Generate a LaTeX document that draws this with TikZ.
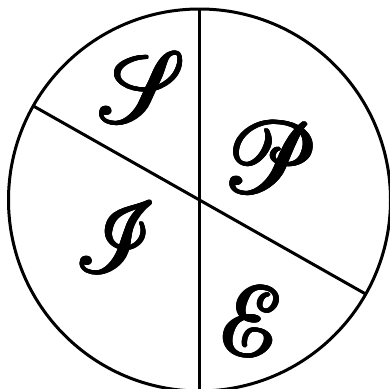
\documentclass[tikz,border=0pt]{standalone}
\usepackage{mathrsfs}
\usepackage[copies]{contour}
\contourlength{0.3pt}
\contournumber{12}
\usetikzlibrary{calc}
\tikzset{
  divider/.style={line width=3pt, black},
  letter/.style={inner sep=0pt, scale=4, xslant=-0.3, font=\fontsize{24.88}{26}\selectfont}
}
\newcommand{\boldscr}[1]{\contour{black}{$\mathscr{#1}$}}
\begin{document}
\begin{tikzpicture}[x=1pt,y=1pt]
  \useasboundingbox (0,0) rectangle (390,-388);
  \coordinate (c) at (199.5,-200);
  \coordinate (top) at (199.5,-9);
  \coordinate (bot) at (199.5,-391);
  \coordinate (left) at ($(c)+(150.5:191)$);
  \coordinate (right) at ($(c)+(-29.5:191)$);
  \draw[divider] (c) circle (191);
  \draw[divider] (top) -- (bot);
  \draw[divider] (left) -- (right);
  \node[letter] (S) at (142,-88) {\boldscr{S}};
  \node[letter] (P) at (268,-158) {\boldscr{P}};
  \node[letter] (I) at (117,-238) {\boldscr{I}};
  \node[letter] (E) at (252,-322) {\boldscr{E}};
\end{tikzpicture}
\end{document}
